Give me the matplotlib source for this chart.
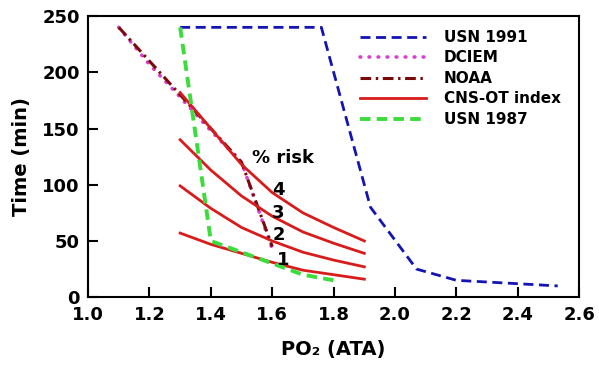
import matplotlib
matplotlib.use("Agg")
import matplotlib.pyplot as plt

# USN 1991
usn91_x = [1.3, 1.76, 1.92, 2.07, 2.2, 2.4, 2.53]
usn91_y = [240, 240, 80, 25, 15, 12, 10]

# DCIEM
dciem_x = [1.1, 1.2, 1.3, 1.4, 1.5, 1.6]
dciem_y = [240, 207, 178, 148, 120, 43]

# NOAA
noaa_x = [1.1, 1.2, 1.3, 1.4, 1.5, 1.6]
noaa_y = [240, 210, 180, 150, 120, 45]

# CNS-OT index curves (1-4 % risk)
cns_x = [1.3, 1.4, 1.5, 1.6, 1.7, 1.8, 1.9]
cns_4 = [182, 150, 118, 93, 75, 62, 50]
cns_3 = [140, 113, 90, 72, 58, 48, 39]
cns_2 = [99, 79, 62, 50, 40, 33, 27]
cns_1 = [57, 47, 39, 31, 24, 20, 16]
risk_labels = ["4", "3", "2", "1"]
risk_label_pos = [(1.6, 95), (1.6, 75), (1.6, 55), (1.615, 33)]

# USN 1987
usn87_x = [1.3, 1.4, 1.5, 1.6, 1.7, 1.8]
usn87_y = [240, 50, 40, 30, 20, 15]

plt.rcParams["font.family"] = "DejaVu Sans"
plt.rcParams["font.weight"] = "bold"

fig = plt.figure(figsize=(5.99, 3.66), dpi=100)
ax = fig.add_axes([0.147, 0.188, 0.820, 0.768])

ax.plot(usn91_x, usn91_y, color="#1414b4", lw=2, dashes=(3.6, 2.0), label="USN 1991")
ax.plot(dciem_x, dciem_y, color="#d840d0", lw=2.6, linestyle=(0, (0.2, 2.3)),
        dash_capstyle="round", label="DCIEM")
ax.plot(noaa_x, noaa_y, color="#7a0a0a", lw=2.2, dashes=(3.5, 1.5, 0.8, 1.5), label="NOAA")
for i, ys in enumerate([cns_4, cns_3, cns_2, cns_1]):
    ax.plot(cns_x, ys, color="#d81c1c", lw=2,
            label="CNS-OT index" if i == 0 else None)
ax.plot(usn87_x, usn87_y, color="#3ddc3d", lw=2.8, dashes=(2.7, 1.6), label="USN 1987")

for lab, (lx, ly) in zip(risk_labels, risk_label_pos):
    ax.text(lx, ly, lab, fontsize=13, fontweight="bold", va="center")
ax.text(1.535, 124, "% risk", fontsize=13, fontweight="bold", va="center")

ax.set_xlim(1.0, 2.6)
ax.set_ylim(0, 250)
ax.set_xticks([1.0, 1.2, 1.4, 1.6, 1.8, 2.0, 2.2, 2.4, 2.6])
ax.set_yticks([0, 50, 100, 150, 200, 250])
ax.set_xticklabels(["1.0", "1.2", "1.4", "1.6", "1.8", "2.0", "2.2", "2.4", "2.6"])
ax.tick_params(direction="in", length=7, width=1.5, labelsize=13, pad=6)
for lbl in ax.get_xticklabels() + ax.get_yticklabels():
    lbl.set_fontweight("bold")
for sp in ax.spines.values():
    sp.set_linewidth(1.5)

ax.set_xlabel("PO\u2082 (ATA)", fontsize=14, fontweight="bold", labelpad=12)
ax.set_ylabel("Time (min)", fontsize=14, fontweight="bold", labelpad=8)

leg = ax.legend(loc="upper left", bbox_to_anchor=(0.525, 1.0), frameon=False,
                fontsize=11, handlelength=4.35, labelspacing=0.36,
                borderaxespad=0.5, handletextpad=1.15)
for t in leg.get_texts():
    t.set_fontweight("bold")

fig.savefig("out.png", dpi=100)
